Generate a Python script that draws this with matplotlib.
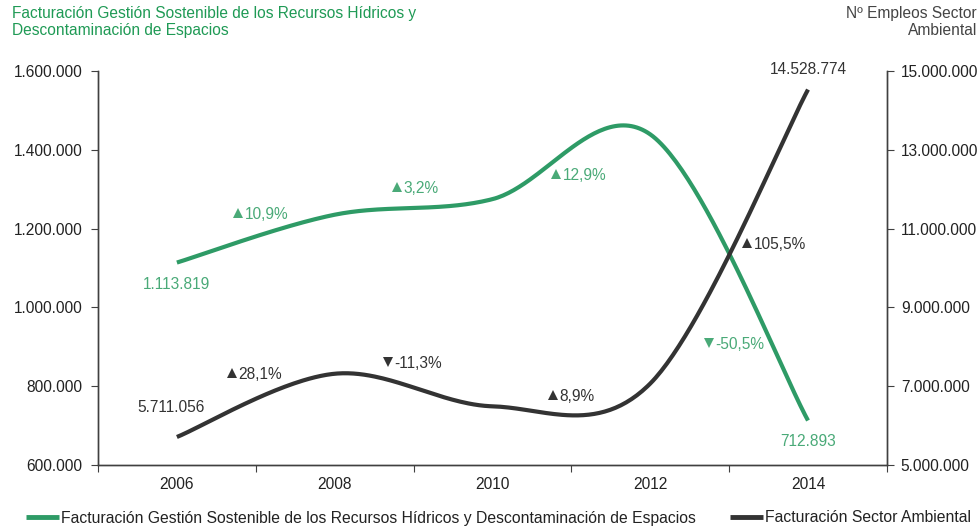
import numpy as np
import matplotlib
matplotlib.use("Agg")
import matplotlib.pyplot as plt
from matplotlib.lines import Line2D
from matplotlib.ticker import FuncFormatter, FixedLocator
from matplotlib.transforms import offset_copy

plt.rcParams['font.family'] = ['Liberation Sans', 'DejaVu Sans']

# datos
years = ["2006", "2008", "2010", "2012", "2014"]
facturacion_hidricos = [1113819, 1235225, 1274752, 1439195, 712893]
facturacion_sector = [5711056, 7316163, 6489400, 7066900, 14528774]
var_hidricos = ["▲10,9%", "▲3,2%", "▲12,9%", "▼-50,5%"]
var_sector = ["▲28,1%", "▼-11,3%", "▲8,9%", "▲105,5%"]

# posiciones de las etiquetas de variación (x = borde izquierdo en categorías, y = centro en eje izquierdo)
pos_var_hidricos = [(0.355, 1239600), (1.363, 1305600), (2.371, 1338600), (3.341, 909600)]
pos_var_sector = [(0.317, 833500), (1.306, 861400), (2.352, 777700), (3.582, 1163500)]

VERDE = "#2e9b66"
VERDE_TXT = "#4aaa78"
VERDE_TIT = "#1f9a55"
NEGRO = "#333333"
FS = 11.2


def suavizar(xs, ys, n=60):
    # curva suavizada tipo Excel (Bezier con tangentes Catmull-Rom)
    pts = np.column_stack([xs, ys]).astype(float)
    out = []
    for i in range(len(pts) - 1):
        p0, p3 = pts[i], pts[i + 1]
        prev = pts[i - 1] if i > 0 else pts[i]
        nxt = pts[i + 2] if i + 2 < len(pts) else pts[i + 1]
        c1 = p0 + (p3 - prev) / 6
        c2 = p3 - (nxt - p0) / 6
        t = np.linspace(0, 1, n)[:, None]
        seg = ((1 - t) ** 3) * p0 + 3 * ((1 - t) ** 2) * t * c1 + 3 * (1 - t) * t ** 2 * c2 + t ** 3 * p3
        out.append(seg if i == 0 else seg[1:])
    out = np.vstack(out)
    return out[:, 0], out[:, 1]


def fmt_miles(v, pos=None):
    return "{:,.0f}".format(v).replace(",", ".")


def etiqueta_var(a, txt, px, py, color):
    # triángulo dibujado como marcador, porcentaje como texto
    marca = "^" if txt[0] == "▲" else "v"
    tr = offset_copy(a.transData, fig=a.figure, x=3.6, y=0, units="points")
    a.plot([px], [py], marker=marca, ms=7.0, color=color, mew=0, transform=tr, clip_on=False)
    a.annotate(txt[1:], (px, py), xytext=(8.4, -4), textcoords="offset points",
               ha="left", va="baseline", fontsize=FS, color=color)


fig = plt.figure(figsize=(9.8, 5.31), dpi=100)
ax = fig.add_axes([0.1, 0.1243, 0.805, 0.742])
ax2 = ax.twinx()

x = np.arange(len(years))
sx, sy = suavizar(x, facturacion_hidricos)
ax.plot(sx, sy, color=VERDE, lw=3, solid_capstyle="butt")
sx2, sy2 = suavizar(x, facturacion_sector)
ax2.plot(sx2, sy2, color=NEGRO, lw=3, solid_capstyle="butt")

ax.set_xlim(-0.5, len(years) - 0.5)
ax.set_ylim(600000, 1600000)
ax2.set_ylim(5000000, 15000000)
ax.set_yticks(np.arange(600000, 1600001, 200000))
ax2.set_yticks(np.arange(5000000, 15000001, 2000000))
ax.yaxis.set_major_formatter(FuncFormatter(fmt_miles))
ax2.yaxis.set_major_formatter(FuncFormatter(fmt_miles))

ax.xaxis.set_major_locator(FixedLocator(np.arange(-0.5, len(years), 1.0)))
ax.set_xticklabels([])
ax.xaxis.set_minor_locator(FixedLocator(x))
ax.set_xticklabels(years, minor=True)
ax.tick_params(axis="x", which="minor", length=0, pad=9, labelsize=FS, labelcolor="#222222")
ax.tick_params(axis="x", which="major", length=5, color="#404040")
ax.tick_params(axis="y", length=5, color="#404040", labelsize=FS, labelcolor="#222222", pad=6)
ax2.tick_params(axis="y", length=5, color="#404040", labelsize=FS, labelcolor="#222222", pad=5)

for a in (ax, ax2):
    a.spines["top"].set_visible(False)
    for s in ("left", "right", "bottom"):
        a.spines[s].set_color("#404040")
        a.spines[s].set_linewidth(1)

# etiquetas de valores extremos
ax.text(x[0], facturacion_hidricos[0] - 55000, fmt_miles(facturacion_hidricos[0]),
        color=VERDE_TXT, fontsize=FS, ha="center", va="center")
ax.text(x[-1], facturacion_hidricos[-1] - 53000, fmt_miles(facturacion_hidricos[-1]),
        color=VERDE_TXT, fontsize=FS, ha="center", va="center")
ax2.text(x[0] - 0.04, facturacion_sector[0] + 740000, fmt_miles(facturacion_sector[0]),
         color=NEGRO, fontsize=FS, ha="center", va="center")
ax2.text(x[-1], facturacion_sector[-1] + 500000, fmt_miles(facturacion_sector[-1]),
         color=NEGRO, fontsize=FS, ha="center", va="center")

for txt, (px, py) in zip(var_hidricos, pos_var_hidricos):
    etiqueta_var(ax, txt, px, py, VERDE_TXT)
for txt, (px, py) in zip(var_sector, pos_var_sector):
    etiqueta_var(ax, txt, px, py, NEGRO)

fig.text(12 / 980, 1 - 6 / 531, "Facturación Gestión Sostenible de los Recursos Hídricos y\nDescontaminación de Espacios",
         color=VERDE_TIT, fontsize=11.2, ha="left", va="top", linespacing=1.2)
fig.text(977 / 980, 1 - 6 / 531, "Nº Empleos Sector\nAmbiental", color="#444444",
         fontsize=11.2, ha="right", va="top", linespacing=1.2, multialignment="right")

handles = [Line2D([], [], color=VERDE, lw=3.5, solid_capstyle="butt"),
           Line2D([], [], color=NEGRO, lw=3.5, solid_capstyle="butt")]
labels = ["Facturación Gestión Sostenible de los Recursos Hídricos y Descontaminación de Espacios",
          "Facturación Sector Ambiental"]
fig.legend(handles, labels, loc="center left", bbox_to_anchor=(26 / 980, 1 - 518 / 531), ncol=2,
           frameon=False, fontsize=11.3, handlelength=2.1, handletextpad=0.12, columnspacing=2.2,
           labelcolor="#222222", borderaxespad=0, borderpad=0)

fig.savefig("out.png", dpi=100)
